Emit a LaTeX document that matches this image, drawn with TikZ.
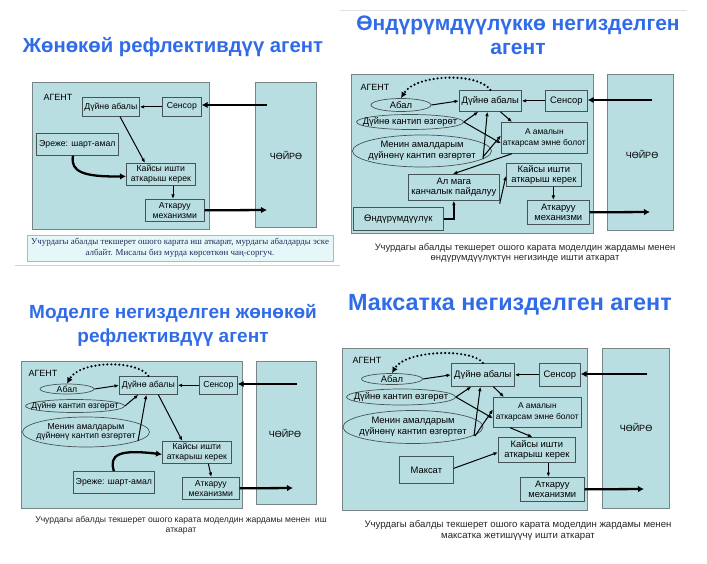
\documentclass[tikz,border=0pt]{standalone}
\usepackage{fontspec}
\setmainfont{Liberation Sans}
\newfontfamily\capserif{Liberation Serif}
\usetikzlibrary{shapes.geometric,arrows.meta,calc}
\definecolor{bgc}{RGB}{185,222,226}
\definecolor{titleblue}{RGB}{48,108,232}
\definecolor{panelgray}{RGB}{120,132,134}
\definecolor{boxgray}{RGB}{70,84,86}
\definecolor{capnavy}{RGB}{30,44,90}
\definecolor{capfill}{RGB}{230,247,249}
\definecolor{capdraw}{RGB}{160,190,200}
\definecolor{lineblue}{RGB}{190,210,240}
\begin{document}
\begin{tikzpicture}[x=1pt,y=-1pt,
  panel/.style={draw=panelgray, fill=bgc, line width=0.8pt, anchor=north west, inner sep=0pt},
  box/.style={draw=boxgray, fill=bgc, line width=0.7pt, anchor=north west, align=center, inner sep=0pt},
  ell/.style={ellipse, draw=boxgray, fill=bgc, line width=0.7pt, inner sep=0pt},
  etxt/.style={align=center, inner sep=0pt},
  arr/.style={-{Latex[length=4.5pt,width=3.6pt]}, line width=1pt},
  tarr/.style={-{Latex[length=6pt,width=6.5pt]}, line width=2.3pt},
  darr/.style={-{Latex[length=6pt,width=6pt]}, line width=2.4pt, line cap=round, dash pattern=on 0pt off 4pt},
  ttl/.style={text=titleblue, align=center},
  lbl/.style={font=\fontsize{9}{10}\selectfont},
  capt/.style={align=center, text=black!85},
  fA/.style={font=\fontsize{8.7}{9.8}\selectfont},
  fB/.style={font=\fontsize{9.4}{10.6}\selectfont},
  fC/.style={font=\fontsize{8.4}{11}\selectfont}
]
\fill[white] (0,0) rectangle (707,564);
\useasboundingbox (0,0) rectangle (707,564);
\draw[black!12, line width=0.6pt] (340,10) -- (687,10);

% ================= Panel 1 =================
\node[ttl, font=\fontsize{20.3}{24}\bfseries\selectfont] (t1) at (173,47) {Жөнөкөй рефлективдүү агент};
\node[panel, minimum width=177pt, minimum height=147pt] (ag1) at (32,82) {};
\node[panel, minimum width=61pt, minimum height=145pt] (env1) at (255,82) {};
\node[lbl] (ag1l) at (58,97) {АГЕНТ};
\node[lbl] (env1l) at (286,155) {ЧӨЙРӨ};
\node[box, fA, minimum width=57pt, minimum height=19pt] (dun1) at (82,97) {Дүйнө абалы};
\node[box, fA, minimum width=39pt, minimum height=19pt] (sens1) at (162,97) {Сенсор};
\node[box, fA, minimum width=82pt, minimum height=22pt] (rule1) at (36,133) {Эреже: шарт-амал};
\node[box, fA, minimum width=69pt, minimum height=22pt] (kay1) at (126,163) {Кайсы ишти\\аткарыш керек};
\node[box, fA, minimum width=59pt, minimum height=22pt] (atk1) at (145,199) {Аткаруу\\механизми};
\coordinate (e1a) at (267,105);
\coordinate (e1b) at (267,210);
\draw[tarr] (e1a) -- (e1a -| sens1.east);
\draw[arr] (sens1.west) -- (dun1.east);
\draw[arr] ([xshift=38pt]dun1.south west) -- ([xshift=19pt]kay1.north west);
\draw[tarr] ([xshift=37pt]rule1.south west) .. controls (70,172) and (84,177) .. ([yshift=-2pt]kay1.west);
\draw[arr] ([xshift=47pt]kay1.south west) -- ([xshift=28pt]atk1.north west);
\draw[tarr] (atk1.east) -- (e1b);
\node[draw=capdraw, fill=capfill, line width=0.6pt, minimum width=306pt, minimum height=26pt, inner sep=0pt, align=center, text=capnavy, font=\capserif\fontsize{8.9}{11}\selectfont] (cap1) at (180,248) {Учурдагы абалды текшерет ошого карата иш аткарат, мурдагы абалдарды эске\\албайт. Мисалы биз мурда көрсөткөн чаң-соргуч.};
\draw[lineblue, line width=0.8pt] (15,265) -- (340,265);

% ================= Panel 2 =================
\node[ttl, font=\fontsize{21}{24}\bfseries\selectfont] (t2) at (518,35) {Өндүрүмдүүлүккө негизделген\\агент};
\node[panel, minimum width=242pt, minimum height=159pt] (ag2) at (351,74) {};
\node[panel, minimum width=66pt, minimum height=156pt] (env2) at (607,74) {};
\node[lbl] (ag2l) at (375,87) {АГЕНТ};
\node[lbl] (env2l) at (642,154) {ЧӨЙРӨ};
\node[box, fB, minimum width=62pt, minimum height=21pt] (dun2) at (459,90) {Дүйнө абалы};
\node[box, fB, minimum width=42pt, minimum height=21pt] (sens2) at (545,90) {Сенсор};
\node[ell, minimum width=60pt, minimum height=13pt] (abal2) at (401,105) {};
\node[etxt, fB] (abal2t) at (abal2) {Абал};
\node[ell, minimum width=107pt, minimum height=15pt] (dk2) at (410,122) {};
\node[etxt, fB] (dk2t) at (dk2) {Дүйнө кантип өзгөрөт};
\node[ell, minimum width=139pt, minimum height=32pt] (men2) at (422,151) {};
\node[etxt, fB] (men2t) at (men2) {Менин амалдарым\\дүйнөнү кантип өзгөртөт};
\node[box, fC, minimum width=86pt, minimum height=31pt] (aam2) at (501,122) {А амалын\\аткарсам эмне болот};
\node[box, fB, minimum width=75pt, minimum height=23pt] (kay2) at (506,163) {Кайсы ишти\\аткарыш керек};
\node[box, fB, minimum width=91pt, minimum height=26pt] (alm2) at (408,174) {Ал мага\\канчалык пайдалуу};
\node[box, fB, minimum width=90pt, minimum height=23pt] (ond2) at (353,207) {Өндүрүмдүүлүк};
\node[box, fB, minimum width=62pt, minimum height=24pt] (atk2) at (527,200) {Аткаруу\\механизми};
\coordinate (e2a) at (652,100);
\coordinate (e2b) at (650,212);
\draw[darr] (dun2.north) .. controls (478,72) and (415,74) .. (abal2.north);
\draw[arr] (abal2.east) -- (dun2.west);
\draw[arr] (sens2.west) -- (dun2.east);
\draw[tarr] (e2a) -- (e2a -| sens2.east);
\draw[arr] (dk2.east) -- ([xshift=-12pt]dun2.south);
\draw[arr] (dk2.east) -- ([yshift=-5.5pt]aam2.west);
\draw[arr] ([shift={(61pt,-8pt)}]men2.center) -- ([xshift=-3pt]dun2.south);
\draw[arr] ([shift={(61pt,-6pt)}]men2.center) -- ([yshift=2.5pt]aam2.west);
\draw[arr] ([xshift=10pt]dun2.south) -- ([xshift=11pt]aam2.north west);
\draw[arr] ([xshift=11pt]aam2.south west) -- ([xshift=-1pt]alm2.north);
\draw[arr] ([yshift=-3pt]alm2.south east) -- ([yshift=-1pt]kay2.west);
\draw[arr, line width=1.6pt] (ond2.east) -| (alm2.south);
\draw[arr] ([xshift=9.5pt]kay2.south) -- ([xshift=-5pt]atk2.north);
\draw[tarr] (atk2.east) -- (e2b);
\node[capt, font=\fontsize{9.4}{10.5}\selectfont] (cap2) at (525,253) {Учурдагы абалды текшерет ошого карата моделдин жардамы менен\\өндүрүмдүүлүктүн негизинде ишти аткарат};

% ================= Panel 3 =================
\node[ttl, font=\fontsize{19}{24}\bfseries\selectfont] (t3) at (173,325) {Моделге негизделген жөнөкөй\\рефлективдүү агент};
\node[panel, minimum width=221pt, minimum height=147pt] (ag3) at (21,361) {};
\node[panel, minimum width=60pt, minimum height=143pt] (env3) at (256,361) {};
\node[lbl] (ag3l) at (43,373) {АГЕНТ};
\node[lbl] (env3l) at (285,433) {ЧӨЙРӨ};
\node[box, fA, minimum width=58pt, minimum height=18pt] (dun3) at (119,376) {Дүйнө абалы};
\node[box, fA, minimum width=38pt, minimum height=18pt] (sens3) at (199,376) {Сенсор};
\node[ell, minimum width=54pt, minimum height=10pt] (abal3) at (67,389) {};
\node[etxt, fA] (abal3t) at (abal3) {Абал};
\node[ell, minimum width=99pt, minimum height=13pt] (dk3) at (75,406) {};
\node[etxt, fA] (dk3t) at (dk3) {Дүйнө кантип өзгөрөт};
\node[ell, minimum width=127pt, minimum height=30pt] (men3) at (86,432) {};
\node[etxt, fA] (men3t) at (men3) {Менин амалдарым\\дүйнөнү кантип өзгөртөт};
\node[box, fA, minimum width=69pt, minimum height=22pt] (kay3) at (162,441) {Кайсы ишти\\аткарыш керек};
\node[box, fA, minimum width=81pt, minimum height=22pt] (rule3) at (73,471) {Эреже: шарт-амал};
\node[box, fA, minimum width=57pt, minimum height=22pt] (atk3) at (182,477) {Аткаруу\\механизми};
\coordinate (e3a) at (297,384);
\coordinate (e3b) at (293,488);
\draw[darr] (dun3.north) .. controls (138,360) and (80,360) .. (abal3.north);
\draw[arr] (abal3.east) -- (dun3.west);
\draw[arr] (sens3.west) -- (dun3.east);
\draw[tarr] (e3a) -- (e3a -| sens3.east);
\draw[arr] (dk3.east) -- ([xshift=-10pt]dun3.south);
\draw[arr] ([shift={(52pt,-9pt)}]men3.center) -- ([xshift=-2pt]dun3.south);
\draw[arr] ([xshift=10pt]dun3.south) -- ([xshift=-14.5pt]kay3.north);
\draw[tarr] (rule3.north) .. controls (109,455) and (118,449) .. ([yshift=-2pt]kay3.west);
\draw[arr] ([xshift=11.5pt]kay3.south) -- ([xshift=0.5pt]atk3.north);
\draw[tarr] (atk3.east) -- (e3b);
\node[capt, font=\fontsize{8.6}{10}\selectfont] (cap3) at (181,525) {Учурдагы абалды текшерет ошого карата моделдин жардамы менен~ иш\\аткарат};

% ================= Panel 4 =================
\node[ttl, font=\fontsize{23.4}{26}\bfseries\selectfont] (t4) at (510,305) {Максатка негизделген агент};
\node[panel, minimum width=245pt, minimum height=162pt] (ag4) at (342,348) {};
\node[panel, minimum width=67pt, minimum height=160pt] (env4) at (602,348) {};
\node[lbl] (ag4l) at (367,360) {АГЕНТ};
\node[lbl] (env4l) at (636,427) {ЧӨЙРӨ};
\node[box, fB, minimum width=63pt, minimum height=23pt] (dun4) at (451,363) {Дүйнө абалы};
\node[box, fB, minimum width=41pt, minimum height=23pt] (sens4) at (539,363) {Сенсор};
\node[ell, minimum width=61pt, minimum height=11pt] (abal4) at (392,379) {};
\node[etxt, fB] (abal4t) at (abal4) {Абал};
\node[ell, minimum width=109pt, minimum height=16pt] (dk4) at (401,397) {};
\node[etxt, fB] (dk4t) at (dk4) {Дүйнө кантип өзгөрөт};
\node[ell, minimum width=140pt, minimum height=33pt] (men4) at (413,427) {};
\node[etxt, fB] (men4t) at (men4) {Менин амалдарым\\дүйнөнү кантип өзгөртөт};
\node[box, fC, minimum width=88pt, minimum height=30pt] (aam4) at (493,397) {А амалын\\аткарсам эмне болот};
\node[box, fB, minimum width=77pt, minimum height=25pt] (kay4) at (498,437) {Кайсы ишти\\аткарыш керек};
\node[box, fB, minimum width=54pt, minimum height=27pt] (maks4) at (399,456) {Максат};
\node[box, fB, minimum width=64pt, minimum height=24pt] (atk4) at (520,477) {Аткаруу\\механизми};
\coordinate (e4a) at (647,374);
\coordinate (e4b) at (644,489);
\draw[darr] (dun4.north) .. controls (472,348) and (405,350) .. (abal4.north);
\draw[arr] (abal4.east) -- (dun4.west);
\draw[arr] (sens4.west) -- (dun4.east);
\draw[tarr] (e4a) -- (e4a -| sens4.east);
\draw[arr] (dk4.east) -- ([xshift=-11.5pt]dun4.south);
\draw[arr] (dk4.east) -- ([yshift=-6pt]aam4.west);
\draw[arr] ([shift={(61pt,-9pt)}]men4.center) -- ([xshift=-2.5pt]dun4.south);
\draw[arr] ([shift={(62pt,-9pt)}]men4.center) -- ([yshift=3pt]aam4.west);
\draw[arr] ([xshift=10.5pt]dun4.south) -- ([xshift=11pt]aam4.north west);
\draw[arr] ([xshift=17pt]aam4.south west) -- ([xshift=-4.5pt]kay4.north);
\draw[arr] ([yshift=1.5pt]maks4.east) -- ([yshift=-2.5pt]kay4.west);
\draw[arr] ([xshift=11.5pt]kay4.south) -- ([xshift=-4pt]atk4.north);
\draw[tarr] (atk4.east) -- (e4b);
\node[capt, font=\fontsize{9.6}{11}\selectfont] (cap4) at (518,530.5) {Учурдагы абалды текшерет ошого карата моделдин жардамы менен\\максатка жетишүүчү ишти аткарат};
\end{tikzpicture}
\end{document}
